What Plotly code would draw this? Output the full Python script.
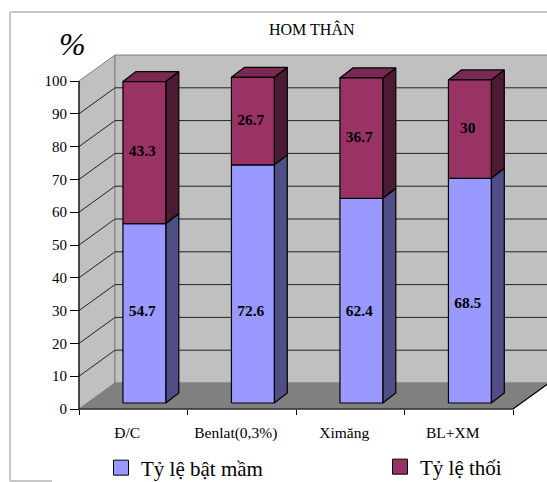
import plotly.graph_objects as go

categories = ["Đ/C", "Benlat(0,3%)", "Ximăng", "BL+XM"]
sprout = [54.7, 72.6, 62.4, 68.5]
rot = [43.3, 26.7, 36.7, 30]
y_ticks = [0, 10, 20, 30, 40, 50, 60, 70, 80, 90, 100]
sprout_name = "Tỷ lệ bật mầm"
rot_name = "Tỷ lệ thối"

W, H = 547, 482
FONT = "Liberation Serif"
ORIGIN_X, ORIGIN_Y = 79, 409
PX_X = 108.5   # pixels per category
PX_Y = 3.28    # pixels per percent
WALL_DX, WALL_DY = 36 / PX_X, 26 / PX_Y
BAR_DX, BAR_DY = 13 / PX_X, 10 / PX_Y
BASE_DY = 6 / PX_Y
BAR_L, BAR_R = 0.405, 0.80
XMAX = len(categories)
LOW_LABEL_Y = [29.6, 29.6, 29.6, 32]
LABEL_SHIFT = -0.02

fig = go.Figure()


def poly(xs, ys, fill, line="black", width=1.2):
    fig.add_trace(go.Scatter(
        x=xs + xs[:1], y=ys + ys[:1], mode="lines", fill="toself", fillcolor=fill,
        line=dict(color=line, width=width), hoverinfo="skip", showlegend=False))


def seg(xs, ys, color, width=1):
    fig.add_trace(go.Scatter(
        x=xs, y=ys, mode="lines", line=dict(color=color, width=width),
        hoverinfo="skip", showlegend=False))


# walls and floor
poly([0, WALL_DX, WALL_DX, 0], [0, WALL_DY, 100 + WALL_DY, 100], "#c0c0c0", "#808080", 1)
poly([WALL_DX, XMAX + WALL_DX, XMAX + WALL_DX, WALL_DX],
     [WALL_DY, WALL_DY, 100 + WALL_DY, 100 + WALL_DY], "#c0c0c0", "#808080", 1)
poly([0, XMAX, XMAX + WALL_DX, WALL_DX], [0, 0, WALL_DY, WALL_DY], "#808080", "#808080", 1)

# gridlines
for v in y_ticks[1:-1]:
    seg([0, WALL_DX, XMAX + WALL_DX], [v, v + WALL_DY, v + WALL_DY], "#222222", 1)

# axis lines
seg([0, 0], [0, 100], "black", 1.2)
seg([0, XMAX, XMAX + WALL_DX], [0, 0, WALL_DY], "black", 1.2)

# stacked bars
for i, (a, b) in enumerate(zip(sprout, rot)):
    l, r = i + BAR_L, i + BAR_R
    y0 = BASE_DY
    y1 = y0 + a
    y2 = y1 + b
    poly([r, r + BAR_DX, r + BAR_DX, r], [y0, y0 + BAR_DY, y1 + BAR_DY, y1], "#4f4f85")
    poly([r, r + BAR_DX, r + BAR_DX, r], [y1, y1 + BAR_DY, y2 + BAR_DY, y2], "#4d1a33")
    poly([l, r, r + BAR_DX, l + BAR_DX], [y2, y2, y2 + BAR_DY, y2 + BAR_DY], "#7a2952")
    poly([l, r, r, l], [y0, y0, y1, y1], "#9999ff")
    poly([l, r, r, l], [y1, y1, y2, y2], "#993366")
    cx = (l + r) / 2 + LABEL_SHIFT
    fig.add_trace(go.Scatter(
        x=[cx, cx], y=[LOW_LABEL_Y[i], y1 + b / 2], mode="text",
        text=[f"<b>{a:g}</b>", f"<b>{b:g}</b>"],
        textfont=dict(family=FONT, size=15.5, color="black"),
        hoverinfo="skip", showlegend=False))

# legend entries
fig.add_trace(go.Scatter(x=[None], y=[None], mode="markers", name=sprout_name, legend="legend",
                         marker=dict(symbol="square", size=15, color="#9999ff",
                                     line=dict(color="black", width=1))))
fig.add_trace(go.Scatter(x=[None], y=[None], mode="markers", name=rot_name, legend="legend2",
                         marker=dict(symbol="square", size=15, color="#993366",
                                     line=dict(color="black", width=1))))

legend_style = dict(font=dict(family=FONT, size=21, color="black"), bgcolor="rgba(0,0,0,0)",
                    xanchor="left", yanchor="middle", itemwidth=30)

fig.update_layout(
    width=W, height=H, autosize=False,
    margin=dict(l=0, r=0, t=0, b=0, autoexpand=False),
    paper_bgcolor="white", plot_bgcolor="rgba(0,0,0,0)",
    font=dict(family=FONT, size=13, color="black"),
    showlegend=True,
    legend=dict(x=101 / W, y=(H - 468) / H, **legend_style),
    legend2=dict(x=380 / W, y=(H - 467) / H, **legend_style),
    xaxis=dict(domain=[0, 1], range=[-ORIGIN_X / PX_X, (W - ORIGIN_X) / PX_X],
               anchor="free", position=(H - ORIGIN_Y) / H, automargin=False,
               showgrid=False, zeroline=False, showline=False,
               tickmode="array", tickvals=[i + 0.445 for i in range(XMAX)], ticktext=categories,
               ticks="", tickfont=dict(family=FONT, size=15.5), ticklabelstandoff=12,
               minor=dict(tickmode="array", tickvals=list(range(XMAX + 1)), ticks="outside",
                          ticklen=5, tickcolor="black", tickwidth=1)),
    yaxis=dict(domain=[0, 1], range=[-(H - ORIGIN_Y) / PX_Y, ORIGIN_Y / PX_Y],
               anchor="free", position=ORIGIN_X / W, automargin=False,
               showgrid=False, zeroline=False, showline=False,
               tickmode="array", tickvals=y_ticks, ticks="outside", ticklen=9,
               tickcolor="black", tickwidth=1, tickfont=dict(family=FONT, size=15)),
    annotations=[
        dict(text="HOM THÂN", x=312 / W, y=(H - 29) / H, xref="paper", yref="paper",
             xanchor="center", yanchor="middle",
             showarrow=False, font=dict(family=FONT, size=16, color="black")),
        dict(text="<i>%</i>", x=72 / W, y=(H - 44) / H, xref="paper", yref="paper",
             xanchor="center", yanchor="middle",
             showarrow=False, font=dict(family=FONT, size=32, color="black")),
    ],
    shapes=[
        dict(type="line", xref="paper", yref="paper", x0=10 / W, x1=1, y0=(H - 12) / H, y1=(H - 12) / H,
             line=dict(color="#c8c8c8", width=2)),
        dict(type="line", xref="paper", yref="paper", x0=10 / W, x1=10 / W, y0=(H - 12) / H, y1=(H - 481) / H,
             line=dict(color="#c8c8c8", width=2)),
        dict(type="line", xref="paper", yref="paper", x0=10 / W, x1=52 / W, y0=(H - 481) / H, y1=(H - 481) / H,
             line=dict(color="#c8c8c8", width=2)),
    ],
)

fig.write_html("out.html", config=dict(displayModeBar=False),
               post_script="document.body.style.margin='0';document.documentElement.style.overflow='hidden';")
